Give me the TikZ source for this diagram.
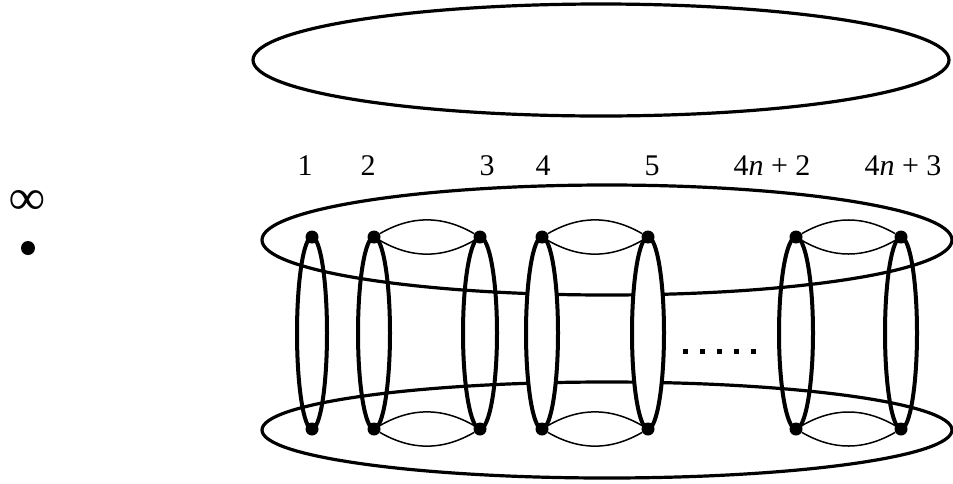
\documentclass[tikz,border=0pt]{standalone}
\usepackage{fontspec}
\setmainfont{Liberation Serif}
\usetikzlibrary{shapes.geometric}

\begin{document}
\begin{tikzpicture}[
        x=1pt, y=-1pt,
        band/.style={draw, ellipse, line width=3.2pt, inner sep=0pt, outer sep=0pt},
        loopcol/.style={draw, ellipse, line width=4pt, inner sep=0pt, outer sep=0pt, minimum height=192pt},
        vertex/.style={circle, fill, inner sep=0pt, minimum size=13pt},
        thinarc/.style={line width=1.5pt},
        lbl/.style={font=\fontsize{30}{36}\selectfont, anchor=base},
    ]
    \useasboundingbox (0,0) rectangle (953,483);

    % the three large ellipses
    \node[band, minimum width=696pt, minimum height=112pt] (sky) at (601,60) {};
    \node[band, minimum width=690pt, minimum height=110pt] (upper) at (607,240) {};
    \node[band, minimum width=690pt, minimum height=96pt] (lower) at (607,430) {};

    % columns with their two vertices
    \foreach \n/\x/\w/\f in {1/312/30/none, 2/374/32/none, 3/480/34/none, 4/542/32/white, 5/648/32/white, 6/796/34/none, 7/901/32/none} {
        \node[loopcol, minimum width=\w pt, fill=\f] (c\n) at (\x,333) {};
        \node[vertex] (t\n) at (c\n.north) {};
        \node[vertex] (b\n) at (c\n.south) {};
    }

    % lens-shaped pairs of arcs
    \foreach \a/\b in {2/3, 4/5, 6/7} {
        \draw[thinarc] (t\a) to[bend left=30] (t\b);
        \draw[thinarc] (t\a) to[bend right=30] (t\b);
        \draw[thinarc] (b\a) to[bend left=30] (b\b);
        \draw[thinarc] (b\a) to[bend right=30] (b\b);
    }

    % the gap
    \foreach \i in {0,...,4}
        \node[fill, inner sep=0pt, minimum size=5pt] (gap\i) at (685+17*\i,351) {};

    % labels
    \node[lbl] (l1) at (305,175) {1};
    \node[lbl] (l2) at (368,175) {2};
    \node[lbl] (l3) at (487,175) {3};
    \node[lbl] (l4) at (543,175) {4};
    \node[lbl] (l5) at (652,175) {5};
    \node[lbl] (l6) at (772,175) {4\textit{n} + 2};
    \node[lbl] (l7) at (903,175) {4\textit{n} + 3};

    % legend on the left
    \node[font=\fontsize{50}{56}\selectfont\bfseries, inner sep=0pt] (inf) at (27,202) {∞};
    \node[circle, fill, inner sep=0pt, minimum size=14pt] (pt) at (28,248) {};
\end{tikzpicture}
\end{document}
